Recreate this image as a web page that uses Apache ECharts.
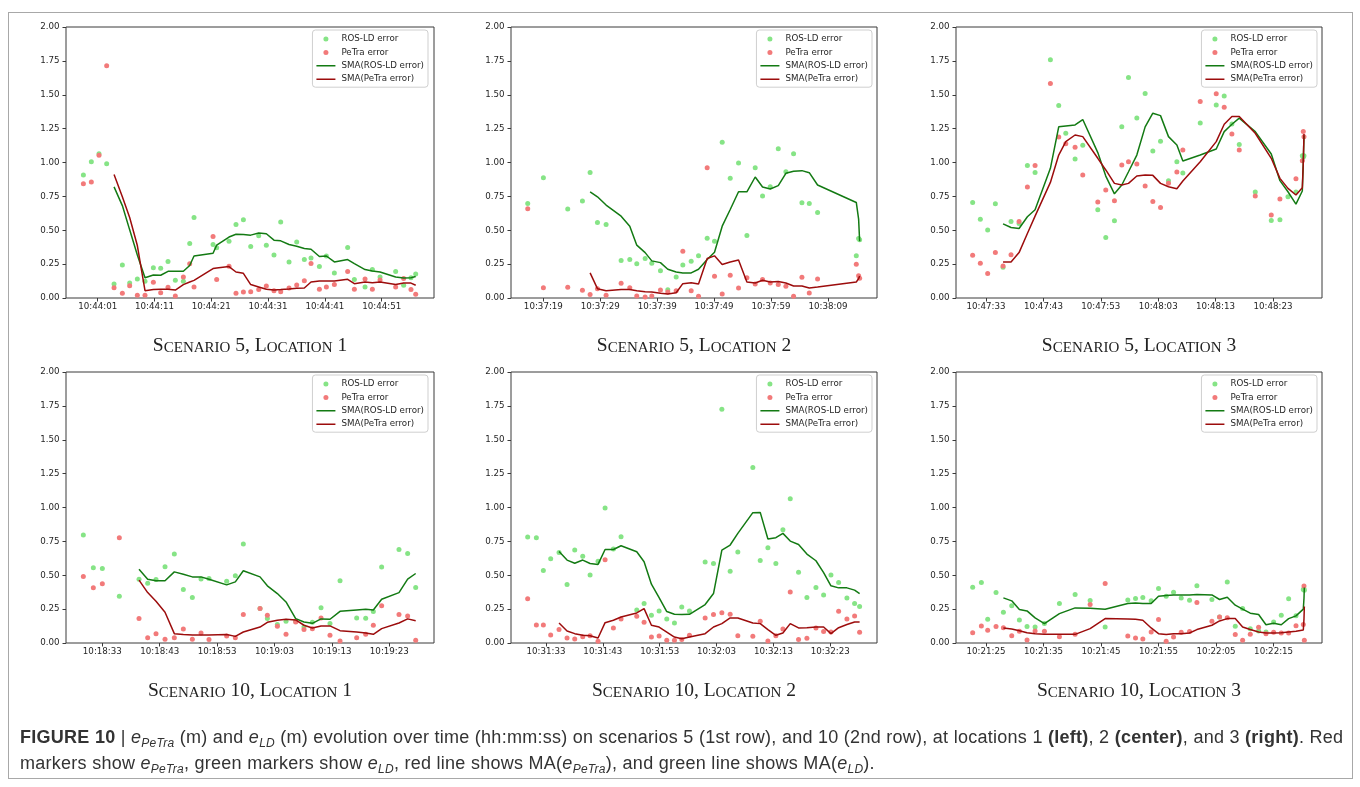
<!DOCTYPE html>
<html>
<head>
<meta charset="utf-8">
<script src="https://cdn.jsdelivr.net/npm/echarts@6/dist/echarts.min.js"></script>
<style>
html,body{margin:0;padding:0;background:#fff;}
#chart{position:absolute;left:0;top:0;width:1360px;height:787px;}
#frame{position:absolute;left:8px;top:12px;width:1343px;height:765px;border:1px solid #a8a8a8;pointer-events:none;}
#cap{position:absolute;left:20px;top:724px;font-family:'Liberation Sans',Arial,sans-serif;font-size:18px;letter-spacing:0.27px;color:#333;line-height:26px;white-space:nowrap;}
#cap sub{font-size:12px;vertical-align:-4px;line-height:0;}
</style>
</head>
<body>
<div id="chart"></div>
<div id="frame"></div>
<div id="cap"><b>FIGURE 10</b> | <i>e<sub>PeTra</sub></i> (m) and <i>e<sub>LD</sub></i> (m) evolution over time (hh:mm:ss) on scenarios 5 (1st row), and 10 (2nd row), at locations 1 <b>(left)</b>, 2 <b>(center)</b>, and 3 <b>(right)</b>. Red<br>markers show <i>e<sub>PeTra</sub></i>, green markers show <i>e<sub>LD</sub></i>, red line shows MA(<i>e<sub>PeTra</sub></i>), and green line shows MA(<i>e<sub>LD</sub></i>).</div>
<script>
// ---------- DATA (time = seconds after the first tick label) ----------
const seriesNames = ['ROS-LD error', 'PeTra error', 'SMA(ROS-LD error)', 'SMA(PeTra error)'];
const titles = ['Scenario 5, Location 1', 'Scenario 5, Location 2', 'Scenario 5, Location 3',
                'Scenario 10, Location 1', 'Scenario 10, Location 2', 'Scenario 10, Location 3'];
const tickOffsets = [0, 10, 20, 30, 40, 50];

// Scenario 5, Location 1
const p1Ticks = ['10:44:01', '10:44:11', '10:44:21', '10:44:31', '10:44:41', '10:44:51'];
const p1Range = [-5.58, 59.21];
const p1Time = [-2.52, -1.12, 0.23, 1.58, 2.88, 4.34, 5.63, 6.98, 8.33, 9.80, 11.09, 12.38, 13.67, 15.08, 16.20, 16.96, 20.31, 20.95, 23.12, 24.35, 25.65, 26.94, 28.35, 29.69, 31.04, 32.22, 33.69, 35.04, 36.38, 37.56, 39.03, 40.26, 41.67, 44.01, 45.19, 47.07, 48.36, 49.71, 52.46, 53.87, 55.16, 55.99];
const p1Ros = [0.907, 1.006, 1.065, 0.991, 0.104, 0.244, 0.111, 0.141, 0.123, 0.224, 0.219, 0.269, 0.131, 0.123, 0.402, 0.594, 0.395, 0.37, 0.419, 0.543, 0.577, 0.38, 0.459, 0.39, 0.318, 0.56, 0.266, 0.414, 0.284, 0.296, 0.232, 0.31, 0.185, 0.372, 0.136, 0.081, 0.21, 0.155, 0.195, 0.094, 0.15, 0.178];
const p1Petra = [0.843, 0.856, 1.053, 1.714, 0.076, 0.035, 0.091, 0.02, 0.02, 0.116, 0.039, 0.079, 0.015, 0.155, 0.252, 0.081, 0.454, 0.136, 0.234, 0.035, 0.044, 0.047, 0.062, 0.089, 0.054, 0.047, 0.074, 0.096, 0.128, 0.254, 0.064, 0.081, 0.099, 0.195, 0.064, 0.141, 0.064, 0.133, 0.081, 0.143, 0.062, 0.027];
const p1SmaRos = [null, null, null, null, 0.82, 0.682, 0.503, 0.318, 0.15, 0.17, 0.168, 0.197, 0.197, 0.197, 0.24, 0.31, 0.33, 0.39, 0.45, 0.47, 0.468, 0.464, 0.48, 0.474, 0.427, 0.422, 0.395, 0.382, 0.365, 0.36, 0.306, 0.31, 0.266, 0.284, 0.254, 0.21, 0.2, 0.192, 0.155, 0.148, 0.15, 0.158];
const p1SmaPetra = [null, null, null, null, 0.912, 0.747, 0.594, 0.387, 0.054, 0.062, 0.064, 0.064, 0.059, 0.099, 0.118, 0.13, 0.217, 0.222, 0.232, 0.192, 0.182, 0.099, 0.081, 0.064, 0.059, 0.062, 0.067, 0.072, 0.074, 0.118, 0.126, 0.126, 0.126, 0.138, 0.106, 0.118, 0.113, 0.118, 0.099, 0.11, 0.11, 0.094];

// Scenario 5, Location 2
const p2Ticks = ['10:37:19', '10:37:29', '10:37:39', '10:37:49', '10:37:59', '10:38:09'];
const p2Range = [-5.69, 58.62];
const p2Time = [-2.75, 0, 4.28, 6.86, 8.21, 9.50, 11.02, 13.66, 15.18, 16.41, 17.88, 19.05, 20.57, 21.86, 23.33, 24.50, 25.97, 27.26, 28.78, 30.07, 31.42, 32.83, 34.29, 35.76, 37.22, 38.51, 39.86, 41.27, 42.61, 43.96, 45.43, 46.72, 48.18, 54.98, 55.39, 55.57];
const p2Ros = [0.698, 0.888, 0.656, 0.715, 0.927, 0.557, 0.543, 0.276, 0.284, 0.252, 0.291, 0.256, 0.202, 0.06, 0.155, 0.244, 0.271, 0.311, 0.441, 0.419, 1.149, 0.883, 0.996, 0.461, 0.962, 0.752, 0.821, 1.102, 0.932, 1.065, 0.703, 0.698, 0.631, 0.311, 0.44, 0.43];
const p2Petra = [0.658, 0.076, 0.079, 0.057, 0.025, 0.069, 0.02, 0.109, 0.076, 0.015, 0.007, 0.015, 0.059, 0.044, 0.054, 0.345, 0.054, 0.012, 0.962, 0.16, 0.03, 0.168, 0.074, 0.15, 0.104, 0.136, 0.111, 0.099, 0.086, 0.012, 0.153, 0.037, 0.141, 0.249, 0.165, 0.145];
const p2SmaRos = [null, null, null, null, 0.784, 0.747, 0.686, 0.604, 0.53, 0.39, 0.335, 0.274, 0.261, 0.212, 0.192, 0.185, 0.185, 0.212, 0.284, 0.338, 0.53, 0.653, 0.784, 0.784, 0.893, 0.819, 0.804, 0.829, 0.92, 0.935, 0.94, 0.925, 0.834, 0.705, 0.582, 0.419];
const p2SmaPetra = [null, null, null, null, 0.185, 0.069, 0.054, 0.062, 0.062, 0.054, 0.047, 0.044, 0.035, 0.03, 0.039, 0.106, 0.113, 0.104, 0.291, 0.311, 0.247, 0.266, 0.281, 0.118, 0.111, 0.131, 0.118, 0.121, 0.111, 0.089, 0.089, 0.074, 0.081, 0.118, 0.143, 0.163];

// Scenario 5, Location 3
const p3Ticks = ['10:47:33', '10:47:43', '10:47:53', '10:48:03', '10:48:13', '10:48:23'];
const p3Range = [-5.23, 58.55];
const p3Time = [-2.33, -0.99, 0.29, 1.63, 2.97, 4.36, 5.76, 7.21, 8.55, 11.22, 12.67, 13.90, 15.52, 16.86, 19.48, 20.87, 22.38, 23.66, 24.83, 26.28, 27.73, 29.07, 30.41, 31.80, 33.26, 34.30, 37.33, 40.12, 41.51, 42.85, 44.13, 46.92, 49.71, 51.22, 52.62, 54.01, 55.12, 55.29, 55.41];
const p3Ros = [0.705, 0.582, 0.501, 0.695, 0.227, 0.565, 0.55, 0.977, 0.927, 1.758, 1.42, 1.216, 1.026, 1.127, 0.651, 0.446, 0.57, 1.263, 1.628, 1.329, 1.509, 1.085, 1.157, 0.866, 1.006, 0.922, 1.292, 1.425, 1.49, 1.285, 1.132, 0.782, 0.572, 0.577, 0.747, 0.782, 1.05, 1.04, 1.05];
const p3Petra = [0.316, 0.256, 0.18, 0.335, 0.237, 0.32, 0.565, 0.819, 0.977, 1.583, 1.189, 1.139, 1.112, 0.908, 0.708, 0.797, 0.718, 0.981, 1.006, 0.989, 0.826, 0.713, 0.668, 0.846, 0.93, 1.092, 1.45, 1.507, 1.408, 1.211, 1.092, 0.752, 0.612, 0.73, null, 0.88, 1.013, 1.228, 1.19];
const p3SmaRos = [null, null, null, null, 0.547, 0.52, 0.513, 0.6, 0.651, 0.957, 1.263, 1.27, 1.277, 1.317, 1.073, 0.9, 0.769, 0.834, 0.932, 1.055, 1.263, 1.364, 1.346, 1.191, 1.129, 1.011, 1.055, 1.1, 1.228, 1.282, 1.327, 1.228, 1.063, 0.866, 0.784, 0.693, 0.79, 1.0, 1.2];
const p3SmaPetra = [null, null, null, null, 0.266, 0.266, 0.335, 0.476, 0.604, 0.853, 1.055, 1.154, 1.203, 1.191, 1.031, 0.945, 0.846, 0.834, 0.846, 0.9, 0.908, 0.905, 0.846, 0.821, 0.806, 0.863, 1.006, 1.154, 1.282, 1.339, 1.339, 1.216, 1.031, 0.883, 0.809, 0.76, 0.814, 1.0, 1.21];

// Scenario 10, Location 1
const p4Ticks = ['10:18:33', '10:18:43', '10:18:53', '10:19:03', '10:19:13', '10:19:23'];
const p4Range = [-6.33, 57.78];
const p4Time = [-3.31, -1.57, 0, 2.96, 6.39, 7.90, 9.35, 10.92, 12.54, 14.11, 15.68, 17.19, 18.58, 21.66, 23.17, 24.56, 27.47, 28.75, 30.49, 32.00, 33.68, 35.13, 36.59, 38.10, 39.66, 41.41, 44.31, 45.88, 47.21, 48.66, 51.68, 53.19, 54.59];
const p4Ros = [0.797, 0.555, 0.55, 0.345, 0.471, 0.441, 0.469, 0.562, 0.656, 0.395, 0.335, 0.473, 0.476, 0.456, 0.496, 0.73, 0.254, 0.18, 0.136, 0.16, 0.16, 0.118, 0.153, 0.261, 0.143, 0.459, 0.185, 0.182, 0.232, 0.56, 0.69, 0.661, 0.409];
const p4Petra = [0.491, 0.407, 0.437, 0.777, 0.18, 0.039, 0.069, 0.027, 0.039, 0.104, 0.027, 0.074, 0.025, 0.052, 0.039, 0.21, 0.254, 0.205, 0.123, 0.064, 0.155, 0.099, 0.106, 0.185, 0.057, 0.015, 0.039, 0.064, 0.131, 0.274, 0.21, 0.2, 0.02];
const p4SmaRos = [null, null, null, null, 0.545, 0.471, 0.459, 0.459, 0.525, 0.508, 0.488, 0.488, 0.471, 0.429, 0.451, 0.533, 0.488, 0.422, 0.365, 0.303, 0.18, 0.155, 0.145, 0.178, 0.175, 0.234, 0.244, 0.249, 0.244, 0.323, 0.372, 0.471, 0.513];
const p4SmaPetra = [null, null, null, null, 0.464, 0.372, 0.308, 0.227, 0.069, 0.062, 0.059, 0.059, 0.059, 0.062, 0.049, 0.081, 0.118, 0.153, 0.168, 0.175, 0.17, 0.131, 0.111, 0.126, 0.126, 0.091, 0.081, 0.074, 0.064, 0.106, 0.148, 0.178, 0.165];

// Scenario 10, Location 2
const p5Ticks = ['10:31:33', '10:31:43', '10:31:53', '10:32:03', '10:32:13', '10:32:23'];
const p5Range = [-6.16, 58.22];
const p5Time = [-3.23, -1.70, -0.47, 0.82, 2.29, 3.70, 5.05, 6.46, 7.75, 9.15, 10.39, 11.85, 13.20, 15.96, 17.25, 18.54, 19.89, 21.24, 22.59, 23.88, 25.23, 27.99, 29.46, 30.93, 32.39, 33.74, 36.38, 37.68, 39.03, 40.43, 41.67, 42.96, 44.42, 45.89, 47.48, 48.83, 50.12, 51.47, 52.93, 54.28, 55.16];
const p5Ros = [0.782, 0.777, 0.535, 0.621, 0.668, 0.432, 0.686, 0.641, 0.501, 0.604, 0.996, 0.693, 0.784, 0.244, 0.291, 0.205, 0.237, 0.178, 0.148, 0.266, 0.237, 0.597, 0.587, 1.726, 0.53, 0.671, 1.295, 0.609, 0.703, 0.587, 0.836, 1.065, 0.523, 0.335, 0.409, 0.355, 0.501, 0.446, 0.333, 0.291, 0.269];
const p5Petra = [0.326, 0.133, 0.133, 0.059, 0.099, 0.037, 0.03, 0.047, 0.054, 0.012, 0.614, 0.111, 0.178, 0.197, 0.153, 0.044, 0.052, 0.02, 0.02, 0.025, 0.057, 0.185, 0.21, 0.224, 0.212, 0.054, 0.049, 0.16, 0.015, 0.054, 0.104, 0.377, 0.025, 0.035, 0.111, 0.084, 0.081, 0.234, 0.178, 0.2, 0.079];
const p5SmaRos = [null, null, null, null, 0.676, 0.612, 0.589, 0.612, 0.587, 0.58, 0.69, 0.69, 0.718, 0.673, 0.6, 0.434, 0.335, 0.232, 0.212, 0.21, 0.212, 0.284, 0.365, 0.686, 0.723, 0.809, 0.962, 0.964, 0.767, 0.777, 0.809, 0.752, 0.727, 0.656, 0.607, 0.52, 0.422, 0.407, 0.407, 0.39, 0.365];
const p5SmaPetra = [null, null, null, null, 0.148, 0.089, 0.069, 0.057, 0.054, 0.037, 0.15, 0.168, 0.192, 0.222, 0.254, 0.131, 0.118, 0.081, 0.044, 0.032, 0.044, 0.069, 0.118, 0.143, 0.185, 0.185, 0.148, 0.143, 0.099, 0.057, 0.074, 0.143, 0.111, 0.113, 0.118, 0.118, 0.069, 0.113, 0.136, 0.155, 0.155];

// Scenario 10, Location 3
const p6Ticks = ['10:21:25', '10:21:35', '10:21:45', '10:21:55', '10:22:05', '10:22:15'];
const p6Range = [-5.22, 58.41];
const p6Time = [-2.32, -0.81, 0.29, 1.74, 3.02, 4.47, 5.80, 7.13, 8.53, 10.15, 12.76, 15.49, 18.10, 20.71, 24.65, 25.99, 27.26, 28.71, 29.99, 31.32, 32.60, 33.93, 35.38, 36.66, 39.27, 40.60, 41.94, 43.33, 44.61, 45.94, 47.39, 48.67, 50.00, 51.33, 52.61, 53.89, 55.16, 55.28, 55.34];
const p6Ros = [0.412, 0.446, 0.175, 0.372, 0.227, 0.274, 0.17, 0.121, 0.118, 0.143, 0.291, 0.358, 0.313, 0.118, 0.318, 0.328, 0.335, 0.311, 0.402, 0.345, 0.375, 0.333, 0.316, 0.422, 0.321, 0.192, 0.451, 0.123, 0.254, 0.106, 0.089, 0.081, 0.155, 0.205, 0.326, 0.202, 0.395, 0.40, 0.39];
const p6Petra = [0.076, 0.126, 0.094, 0.121, 0.113, 0.054, 0.086, 0.022, 0.089, 0.086, 0.047, 0.064, 0.284, 0.439, 0.052, 0.037, 0.03, 0.081, 0.173, 0.012, 0.044, 0.079, 0.084, 0.298, 0.16, 0.192, 0.187, 0.062, 0.02, 0.064, 0.116, 0.069, 0.079, 0.074, 0.074, 0.128, 0.136, 0.42, 0.02];
const p6SmaRos = [null, null, null, null, 0.333, 0.311, 0.247, 0.237, 0.185, 0.143, 0.217, 0.259, 0.256, 0.249, 0.291, 0.296, 0.291, 0.291, 0.345, 0.35, 0.355, 0.355, 0.355, 0.358, 0.355, 0.321, 0.338, 0.279, 0.25, 0.22, 0.21, 0.135, 0.145, 0.135, 0.18, 0.2, 0.25, 0.33, 0.41];
const p6SmaPetra = [null, null, null, null, 0.111, 0.104, 0.091, 0.076, 0.069, 0.064, 0.064, 0.064, 0.106, 0.18, 0.178, 0.175, 0.168, 0.111, 0.069, 0.062, 0.069, 0.069, 0.074, 0.099, 0.131, 0.163, 0.18, 0.18, 0.118, 0.099, 0.081, 0.074, 0.074, 0.076, 0.081, 0.086, 0.096, 0.18, 0.27];

// ---------- LAYOUT / STYLE ----------
const panels = [
  [p1Time, p1Ros, p1Petra, p1SmaRos, p1SmaPetra, p1Ticks, p1Range],
  [p2Time, p2Ros, p2Petra, p2SmaRos, p2SmaPetra, p2Ticks, p2Range],
  [p3Time, p3Ros, p3Petra, p3SmaRos, p3SmaPetra, p3Ticks, p3Range],
  [p4Time, p4Ros, p4Petra, p4SmaRos, p4SmaPetra, p4Ticks, p4Range],
  [p5Time, p5Ros, p5Petra, p5SmaRos, p5SmaPetra, p5Ticks, p5Range],
  [p6Time, p6Ros, p6Petra, p6SmaRos, p6SmaPetra, p6Ticks, p6Range]
];
const colLeft = [66, 511, 956];
const colWidth = [368, 366, 366];
const rowTop = [27, 372];
const gridH = 271;
const legendRight = [932, 488, 43];
const titleBaseline = [355.5, 701];

const C_GREEN_PT = '#86e486';
const C_RED_PT = '#f27a7a';
const C_GREEN_LN = '#137a13';
const C_RED_LN = '#9c0c0c';
const AX = '#3a3a3a';
const TXT = '#262626';
const FONT = 'DejaVu Sans';
const FS = 8.7;
// thin horizontal bar inside a 19x5 box (legend icon for the SMA lines)
const LINE_ICON = 'path://M0,0L0.001,0M0,1.75L19,1.75L19,3.25L0,3.25ZM0,5L0.001,5';

function zip(t, v) {
  const out = [];
  for (let i = 0; i < t.length; i++) if (v[i] !== null && v[i] !== undefined) out.push([t[i], v[i]]);
  return out;
}
function smallCapsRich(str) {
  const s = str.toUpperCase();
  let out = '', cur = null, buf = '';
  for (let i = 0; i < s.length; i++) {
    const ch = s[i];
    const isLetter = /[A-Z]/.test(ch);
    const prevLetter = i > 0 && /[A-Z]/.test(s[i - 1]);
    const k = (isLetter && prevLetter) ? 's' : 'b';
    if (k !== cur) { if (cur) out += '{' + cur + '|' + buf + '}'; cur = k; buf = ''; }
    buf += ch;
  }
  if (cur) out += '{' + cur + '|' + buf + '}';
  return out;
}

const grids = [], xAxes = [], yAxes = [], series = [], legends = [], graphics = [];
panels.forEach((p, i) => {
  const [t, ros, pet, sRos, sPet, ticks, range] = p;
  const col = i % 3, row = Math.floor(i / 3);
  grids.push({ left: colLeft[col], top: rowTop[row], width: colWidth[col], height: gridH,
               show: true, borderColor: AX, borderWidth: 1, backgroundColor: 'transparent', containLabel: false });
  xAxes.push({
    type: 'value', gridIndex: i, min: range[0], max: range[1], position: 'bottom',
    axisLine: { show: false, onZero: false },
    splitLine: { show: false },
    axisTick: { show: true, length: 3.5, lineStyle: { color: AX, width: 1 }, customValues: tickOffsets },
    axisLabel: { show: true, margin: 4.5, color: TXT, fontFamily: FONT, fontSize: FS,
                 customValues: tickOffsets,
                 formatter: (v) => ticks[Math.round(v / 10)] }
  });
  yAxes.push({
    type: 'value', gridIndex: i, min: 0, max: 2, interval: 0.25, position: 'left',
    axisLine: { show: false, onZero: false },
    splitLine: { show: false },
    axisTick: { show: true, length: 3.5, lineStyle: { color: AX, width: 1 } },
    axisLabel: { margin: 6.5, color: TXT, fontFamily: FONT, fontSize: FS, formatter: (v) => v.toFixed(2) }
  });
  series.push({ name: seriesNames[0], type: 'scatter', xAxisIndex: i, yAxisIndex: i, symbol: 'circle', symbolSize: 5,
                itemStyle: { color: C_GREEN_PT, opacity: 1 }, data: zip(t, ros), z: 2, silent: true });
  series.push({ name: seriesNames[1], type: 'scatter', xAxisIndex: i, yAxisIndex: i, symbol: 'circle', symbolSize: 5,
                itemStyle: { color: C_RED_PT, opacity: 1 }, data: zip(t, pet), z: 3, silent: true });
  series.push({ name: seriesNames[2], type: 'line', xAxisIndex: i, yAxisIndex: i, symbol: 'none', showSymbol: false,
                lineStyle: { color: C_GREEN_LN, width: 1.5 }, itemStyle: { color: C_GREEN_LN }, data: zip(t, sRos), z: 4, silent: true });
  series.push({ name: seriesNames[3], type: 'line', xAxisIndex: i, yAxisIndex: i, symbol: 'none', showSymbol: false,
                lineStyle: { color: C_RED_LN, width: 1.5 }, itemStyle: { color: C_RED_LN }, data: zip(t, sPet), z: 5, silent: true });
  legends.push({
    data: seriesNames.map((n, k) => k < 2 ? { name: n, icon: 'circle' } : { name: n, icon: LINE_ICON }),
    orient: 'vertical', right: legendRight[col], top: rowTop[row] + 3,
    itemWidth: 19, itemHeight: 5, itemGap: 3.4, padding: [4, 4, 3, 4],
    backgroundColor: 'rgba(255,255,255,0.85)', borderColor: '#cfcfcf', borderWidth: 1, borderRadius: 3,
    selectedMode: false,
    textStyle: { color: TXT, fontFamily: FONT, fontSize: FS, lineHeight: 10, padding: [0, 0, 0, 1] }
  });
  graphics.push({
    type: 'text', silent: true,
    x: colLeft[col] + colWidth[col] / 2,
    y: titleBaseline[row] - 6.6,
    style: {
      text: smallCapsRich(titles[i]),
      align: 'center', verticalAlign: 'middle', fill: '#222',
      rich: {
        b: { fontFamily: 'Liberation Serif', fontSize: 19.5, lineHeight: 13.2, verticalAlign: 'bottom', fill: '#222' },
        s: { fontFamily: 'Liberation Serif', fontSize: 15, lineHeight: 10.1, verticalAlign: 'bottom', fill: '#222' }
      }
    }
  });
});

const chart = echarts.init(document.getElementById('chart'), null, { renderer: 'canvas', width: 1360, height: 787 });
chart.setOption({
  animation: false,
  backgroundColor: '#ffffff',
  grid: grids, xAxis: xAxes, yAxis: yAxes, series: series, legend: legends, graphic: graphics
});
</script>
</body>
</html>
